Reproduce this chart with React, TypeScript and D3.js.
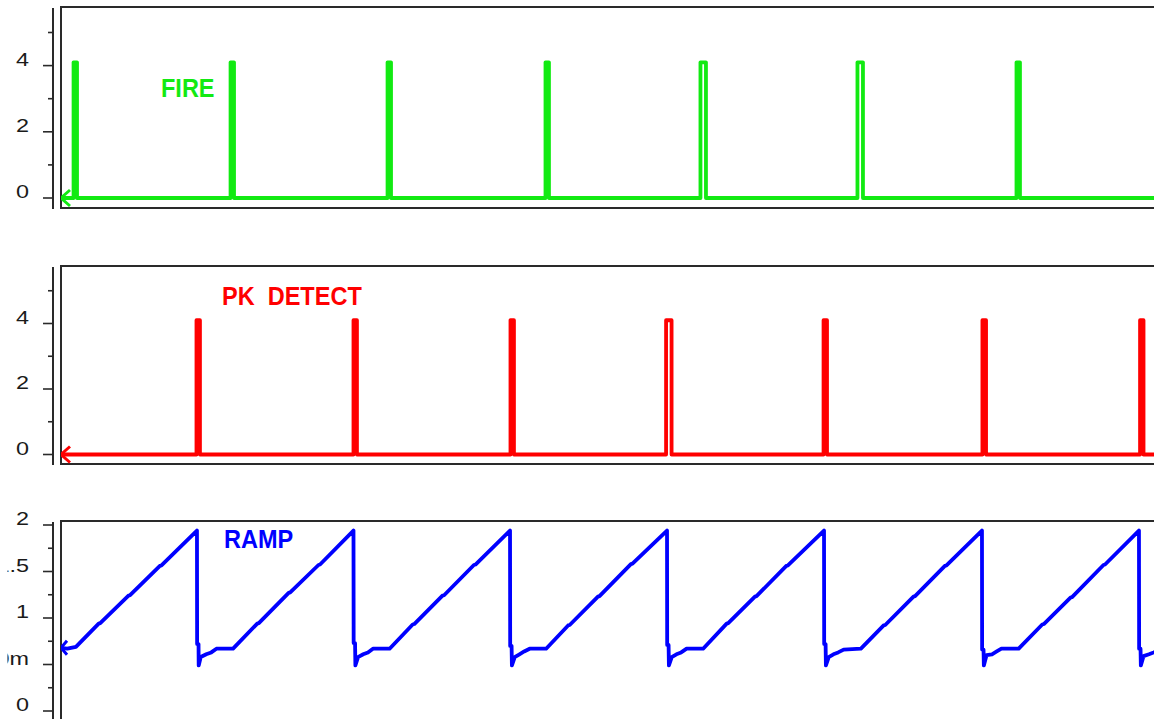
import React from "react";
import * as d3 from "d3";

const WIDTH = 1154;
const HEIGHT = 719;

// Shared time axis (µs) for all three traces
const TIME_DOMAIN: [number, number] = [0, 70];

// FIRE digital output: rising / falling edge times and high level (V)
const fireRise = [0.8, 10.8, 20.8, 30.86, 40.73, 50.73, 60.86];
const fireFall = [1.02, 11.02, 21.02, 31.08, 41.08, 51.08, 61.08];
const FIRE_HIGH = 4.1;

// PK DETECT digital output
const pkRise = [8.63, 18.63, 28.63, 38.54, 48.57, 58.69, 68.73];
const pkFall = [8.85, 18.85, 28.85, 38.89, 48.79, 58.92, 68.95];
const PK_HIGH = 4.1;

// RAMP analog voltage: [time µs, volts]
const rampPoints: [number, number][] = [
  [0, 0.68], [0.4, 0.67], [0.95, 0.69], [2.4, 0.94], [2.5, 0.945], [4.3, 1.24], [4.4, 1.245], [6.3, 1.56], [6.4, 1.565], [8.66, 1.94],
  [8.67, 0.72], [8.76, 0.72], [8.77, 0.49], [8.9, 0.58], [9.25, 0.61], [9.57, 0.63], [9.9, 0.67], [10.96, 0.67],
  [12.5, 0.94], [12.6, 0.945], [14.5, 1.27], [14.6, 1.275], [16.4, 1.57], [16.5, 1.575], [18.63, 1.94],
  [18.64, 0.73], [18.73, 0.73], [18.75, 0.49], [18.92, 0.58], [19.25, 0.61], [19.55, 0.63], [19.87, 0.67], [20.93, 0.67],
  [22.4, 0.93], [22.5, 0.935], [24.3, 1.24], [24.4, 1.245], [26.3, 1.57], [26.4, 1.575], [28.6, 1.94],
  [28.61, 0.7], [28.7, 0.7], [28.72, 0.49], [28.9, 0.58], [29.2, 0.61], [29.5, 0.64], [29.85, 0.67], [30.9, 0.67],
  [32.3, 0.92], [32.4, 0.925], [34.2, 1.23], [34.3, 1.235], [36.3, 1.58], [36.4, 1.585], [38.6, 1.94],
  [38.61, 0.71], [38.7, 0.71], [38.72, 0.49], [38.9, 0.58], [39.2, 0.61], [39.5, 0.63], [39.85, 0.67], [40.9, 0.67],
  [42.4, 0.94], [42.5, 0.945], [44.2, 1.23], [44.3, 1.235], [46.2, 1.56], [46.3, 1.565], [48.6, 1.94],
  [48.61, 0.72], [48.7, 0.72], [48.72, 0.49], [48.9, 0.58], [49.2, 0.61], [49.5, 0.63], [49.85, 0.66], [50.95, 0.67],
  [52.4, 0.92], [52.5, 0.925], [54.3, 1.23], [54.4, 1.235], [56.3, 1.56], [56.4, 1.565], [58.66, 1.94],
  [58.67, 0.66], [58.76, 0.66], [58.78, 0.49], [58.95, 0.6], [59.3, 0.61], [59.6, 0.64], [59.9, 0.67], [61.0, 0.67],
  [62.5, 0.93], [62.6, 0.935], [64.3, 1.22], [64.4, 1.225], [66.4, 1.57], [66.5, 1.575], [68.66, 1.94],
  [68.67, 0.67], [68.76, 0.67], [68.78, 0.49], [68.95, 0.59], [69.3, 0.61], [69.6, 0.63], [70, 0.66],
];

// Axis ticks
const digitalMajor = [0, 2, 4];
const digitalMinor = [1, 3, 5];
const rampMajor = [0, 0.5, 1, 1.5, 2];
const rampMajorLabels = ["0", "500m", "1", "1.5", "2"];
const rampMinor = [0.25, 0.75, 1.25, 1.75];

const GREEN = "#12ea12";
const RED = "#ff0000";
const BLUE = "#0000ff";
const FRAME = "#2a2a2a";

const PLOT_LEFT = 61;
const PLOT_RIGHT = 1160;
const AXIS_X = 53;

const x = d3.scaleLinear().domain(TIME_DOMAIN).range([PLOT_LEFT, PLOT_RIGHT]);

function pulseTrain(rise: number[], fall: number[], high: number): [number, number][] {
  const pts: [number, number][] = [[TIME_DOMAIN[0], 0]];
  rise.forEach((r, i) => {
    pts.push([r, 0], [r, high], [fall[i], high], [fall[i], 0]);
  });
  pts.push([TIME_DOMAIN[1], 0]);
  return pts;
}

type Panel = {
  id: string;
  top: number;
  bottom: number;
  y: d3.ScaleLinear<number, number>;
  major: number[];
  labels: string[];
  minor: number[];
  data: [number, number][];
  color: string;
  title: string;
  titleX: number;
  titleY: number;
  arrow: { dx: number; dy: number };
};

const panels: Panel[] = [
  {
    id: "fire",
    top: 7,
    bottom: 208,
    y: d3.scaleLinear().domain([0, 4]).range([198, 65.6]),
    major: digitalMajor,
    labels: digitalMajor.map(String),
    minor: digitalMinor,
    data: pulseTrain(fireRise, fireFall, FIRE_HIGH),
    color: GREEN,
    title: "FIRE",
    titleX: 161,
    titleY: 97,
    arrow: { dx: 9, dy: 8 },
  },
  {
    id: "pk",
    top: 266,
    bottom: 464,
    y: d3.scaleLinear().domain([0, 4]).range([454.5, 323.5]),
    major: digitalMajor,
    labels: digitalMajor.map(String),
    minor: digitalMinor,
    data: pulseTrain(pkRise, pkFall, PK_HIGH),
    color: RED,
    title: "PK  DETECT",
    titleX: 222,
    titleY: 305,
    arrow: { dx: 9, dy: 8 },
  },
  {
    id: "ramp",
    top: 521,
    bottom: 780,
    y: d3.scaleLinear().domain([0, 2]).range([711, 525]),
    major: rampMajor,
    labels: rampMajorLabels,
    minor: rampMinor,
    data: rampPoints,
    color: BLUE,
    title: "RAMP",
    titleX: 224,
    titleY: 548,
    arrow: { dx: 6, dy: 7 },
  },
];

export default function App() {
  return (
    <svg
      width={WIDTH}
      height={HEIGHT}
      viewBox={`0 0 ${WIDTH} ${HEIGHT}`}
      style={{ position: "absolute", left: 0, top: 0, background: "#fff" }}
    >
      <defs>
        {panels.map((p) => (
          <clipPath id={`clip-${p.id}`} key={p.id}>
            <rect x={PLOT_LEFT} y={p.top} width={PLOT_RIGHT - PLOT_LEFT} height={p.bottom - p.top} />
          </clipPath>
        ))}
        {/* value labels live in a narrow gutter left of the axis */}
        <clipPath id="label-clip">
          <rect x={7.5} y={0} width={60} height={HEIGHT} />
        </clipPath>
      </defs>
      <rect width={WIDTH} height={HEIGHT} fill="#fff" />
      {panels.map((p) => {
        const line = d3
          .line<[number, number]>()
          .x((d) => x(d[0]))
          .y((d) => p.y(d[1]));
        const start = p.data[0];
        const sx = x(start[0]);
        const sy = p.y(start[1]);
        return (
          <g key={p.id}>
            {/* value axis */}
            <line x1={AXIS_X} x2={AXIS_X} y1={p.top + 1} y2={p.bottom + 1} stroke={FRAME} strokeWidth={2} />
            {p.major.map((v) => (
              <line key={`M${v}`} x1={AXIS_X - 10} x2={AXIS_X} y1={p.y(v)} y2={p.y(v)} stroke={FRAME} strokeWidth={1.6} />
            ))}
            {p.minor.map((v) => (
              <line key={`m${v}`} x1={AXIS_X - 5} x2={AXIS_X} y1={p.y(v)} y2={p.y(v)} stroke={FRAME} strokeWidth={1.6} />
            ))}
            <g clipPath="url(#label-clip)">
              {p.major.map((v, i) => (
                <text
                  key={`t${v}`}
                  transform={`translate(29,${p.y(v)}) scale(1.3,1.02)`}
                  textAnchor="end"
                  fontFamily="Liberation Sans, Arial, sans-serif"
                  fontSize={18}
                  fill="#1a1a1a"
                >
                  {p.labels[i]}
                </text>
              ))}
            </g>
            {/* plot frame */}
            <rect
              x={PLOT_LEFT}
              y={p.top}
              width={PLOT_RIGHT + 20 - PLOT_LEFT}
              height={p.bottom - p.top}
              fill="none"
              stroke={FRAME}
              strokeWidth={2}
            />
            <g clipPath={`url(#clip-${p.id})`}>
              <path
                d={line(p.data) ?? ""}
                fill="none"
                stroke={p.color}
                strokeWidth={3.8}
                strokeLinejoin="round"
              />
              <path
                d={`M${sx + p.arrow.dx},${sy - p.arrow.dy} L${sx},${sy} L${sx + p.arrow.dx},${sy + p.arrow.dy}`}
                fill="none"
                stroke={p.color}
                strokeWidth={3}
              />
            </g>
            <text
              transform={`translate(${p.titleX},${p.titleY}) scale(0.98,1.08)`}
              fontFamily="Liberation Sans, Arial, sans-serif"
              fontWeight="bold"
              fontSize={24}
              fill={p.color}
              style={{ whiteSpace: "pre" }}
            >
              {p.title}
            </text>
          </g>
        );
      })}
    </svg>
  );
}
